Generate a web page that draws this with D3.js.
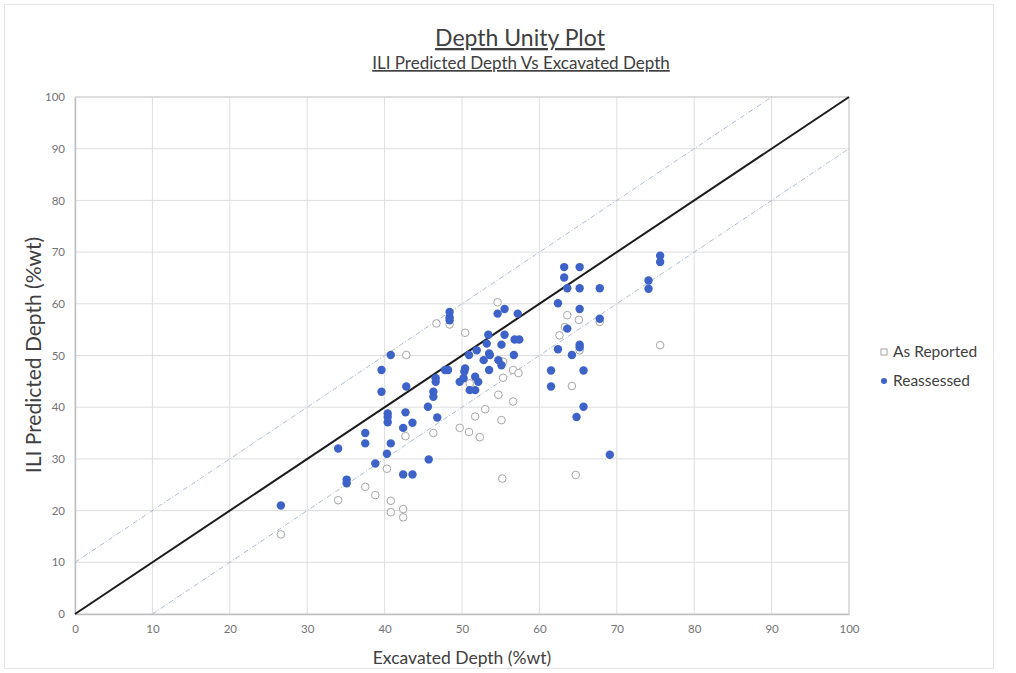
<!DOCTYPE html>
<html>
<head>
<meta charset="utf-8">
<script src="https://cdn.jsdelivr.net/npm/d3@7"></script>
<style>
  body { margin: 0; background: #fff; }
  text { font-family: Lato, "Open Sans", sans-serif; }
</style>
</head>
<body>
<div id="chart"></div>
<script>
// As Reported (hollow) points: [excavated, predicted]
var reported = [
  [26.6, 15.4], [34, 22], [37.5, 24.6], [38.8, 23], [40.8, 21.9], [40.8, 19.7],
  [42.4, 20.3], [42.4, 18.7], [40.3, 28.1], [42.7, 34.4], [46.3, 35], [49.7, 36],
  [50.9, 35.2], [52.3, 34.2], [55.1, 37.5], [51.7, 38.2], [53, 39.6], [54.7, 42.4],
  [56.6, 41.1], [55.3, 45.7], [56.6, 47.2], [57.3, 46.6], [55.2, 26.2], [42.8, 50.1],
  [46.7, 56.2], [50.4, 54.4], [54.6, 60.3], [63.6, 57.8], [65.1, 56.9], [67.8, 56.5],
  [63.3, 55.5], [62.6, 53.9], [65.2, 51], [64.2, 44.1], [75.6, 52], [64.7, 26.9],
  [51, 44.6], [55.3, 48.8], [48.4, 56]
];

// Reassessed (filled) points
var reassessed = [
  [26.6, 21], [34, 32], [35.1, 26], [35.1, 25.3], [37.5, 35], [37.5, 33], [38.8, 29.1],
  [40.3, 31], [40.8, 33], [40.4, 38.8], [40.4, 38.1], [40.4, 37.1], [42.7, 39], [43.6, 37],
  [42.4, 36], [45.7, 29.9], [42.4, 27], [43.6, 27], [46.8, 38], [45.6, 40.1], [40.8, 50.1],
  [39.6, 47.2], [39.6, 43], [42.8, 44], [48.4, 58.4], [48.4, 57.4], [48.4, 56.8],
  [46.6, 45.6], [46.6, 44.9], [48.2, 47.2], [46.3, 43], [46.3, 42], [47.8, 47.2],
  [50.4, 47.5], [50.3, 46.9], [50.9, 50.1], [51.9, 51], [49.7, 44.9], [50.2, 45.6],
  [51.7, 45.9], [52.1, 44.9], [51, 43.3], [51.7, 43.3], [53.4, 54], [55.5, 54],
  [53.2, 52.3], [53.5, 50.4], [55.1, 52.1], [56.8, 53.1], [57.4, 53.1], [56.7, 50.1],
  [52.8, 49.1], [53.6, 50.1], [54.7, 49.1], [55.1, 48.1], [53.5, 47.2], [54.6, 58.1],
  [55.5, 59], [57.2, 58.1], [62.4, 60.1], [61.5, 47.1], [61.5, 44], [62.4, 51.2],
  [63.2, 67.1], [65.2, 67.1], [63.2, 65.1], [63.6, 63], [65.2, 63], [67.8, 63],
  [65.2, 59], [67.8, 57.1], [63.6, 55.2], [65.2, 52.1], [65.2, 51.6], [64.2, 50.1],
  [65.7, 47.1], [65.7, 40.1], [64.8, 38.1], [75.6, 69.3], [75.6, 68.1], [74.1, 64.5],
  [74.1, 62.9], [69.1, 30.8]
];

var xTicks = [0, 10, 20, 30, 40, 50, 60, 70, 80, 90, 100];
var yTicks = [0, 10, 20, 30, 40, 50, 60, 70, 80, 90, 100];

// reference lines: unity and +/-10 band
var unityLine = [[0, 0], [100, 100]];
var upperBand = [[0, 10], [90, 100]];
var lowerBand = [[10, 0], [100, 90]];

var legendLabels = ["As Reported", "Reassessed"];

var W = 1016, H = 673;
var margin = {left: 75, right: 167, top: 97, bottom: 56};

var svg = d3.select("#chart").append("svg")
  .attr("width", W).attr("height", H);

// outer frame
svg.append("rect")
  .attr("x", 4.5).attr("y", 4.5).attr("width", 989).attr("height", 664)
  .attr("fill", "none").attr("stroke", "#e6e6e6");

var x = d3.scaleLinear().domain([0, 100]).range([margin.left, W - margin.right]);
var y = d3.scaleLinear().domain([0, 100]).range([H - margin.bottom - 3, margin.top]);

// gridlines
svg.append("g").selectAll("line").data(xTicks).enter().append("line")
  .attr("x1", function(d) { return x(d); }).attr("x2", function(d) { return x(d); })
  .attr("y1", y(0)).attr("y2", y(100))
  .attr("stroke", function(d) { return d === 100 ? "#bdbdbd" : "#dedede"; })
  .attr("stroke-width", 1);

svg.append("g").selectAll("line").data(yTicks).enter().append("line")
  .attr("y1", function(d) { return y(d); }).attr("y2", function(d) { return y(d); })
  .attr("x1", x(0)).attr("x2", x(100))
  .attr("stroke", function(d) { return d === 100 ? "#bdbdbd" : "#dedede"; })
  .attr("stroke-width", 1);

// axes
var xAxis = svg.append("g")
  .attr("transform", "translate(0," + y(0) + ")")
  .call(d3.axisBottom(x).tickValues(xTicks).tickSize(0).tickPadding(11));
var yAxis = svg.append("g")
  .attr("transform", "translate(" + x(0) + ",0)")
  .call(d3.axisLeft(y).tickValues(yTicks).tickSize(0).tickPadding(10));

[xAxis, yAxis].forEach(function(a) {
  a.select(".domain").attr("stroke", "#bfbfbf").attr("stroke-width", 1.5);
  a.selectAll("text").attr("fill", "#737373").style("font-size", "11.5px")
    .style("font-family", "'Liberation Sans Narrow', Lato, sans-serif");
});

var line = d3.line()
  .x(function(d) { return x(d[0]); })
  .y(function(d) { return y(d[1]); });

[upperBand, lowerBand].forEach(function(b) {
  svg.append("path").datum(b).attr("d", line)
    .attr("fill", "none").attr("stroke", "#aebdd0")
    .attr("stroke-width", 1).attr("stroke-dasharray", "5,2,1,2");
});

svg.append("path").datum(unityLine).attr("d", line)
  .attr("fill", "none").attr("stroke", "#1c1c1c").attr("stroke-width", 2);

// points
svg.append("g").selectAll("circle").data(reported).enter().append("circle")
  .attr("cx", function(d) { return x(d[0]); })
  .attr("cy", function(d) { return y(d[1]); })
  .attr("r", 3.8)
  .attr("fill", "#fff").attr("stroke", "#a6a6a6").attr("stroke-width", 1);

svg.append("g").selectAll("circle").data(reassessed).enter().append("circle")
  .attr("cx", function(d) { return x(d[0]); })
  .attr("cy", function(d) { return y(d[1]); })
  .attr("r", 4.2)
  .attr("fill", "#3d63c9");

// titles
svg.append("text").attr("x", 520).attr("y", 46).attr("text-anchor", "middle")
  .attr("fill", "#404040").style("font-size", "23px")
  .style("text-decoration", "underline").text("Depth Unity Plot");
svg.append("text").attr("x", 521).attr("y", 69).attr("text-anchor", "middle")
  .attr("fill", "#404040").style("font-size", "17px")
  .style("text-decoration", "underline").text("ILI Predicted Depth Vs Excavated Depth");

svg.append("text").attr("x", 462).attr("y", 664).attr("text-anchor", "middle")
  .attr("fill", "#404040").style("font-size", "17.5px").text("Excavated Depth (%wt)");
svg.append("text")
  .attr("transform", "translate(41,355) rotate(-90)")
  .attr("text-anchor", "middle")
  .attr("fill", "#404040").style("font-size", "21px").text("ILI Predicted Depth (%wt)");

// legend
var leg = svg.append("g").attr("transform", "translate(884,352)");
leg.append("rect").attr("x", -3).attr("y", -3).attr("width", 6).attr("height", 6)
  .attr("fill", "#fff").attr("stroke", "#a6a6a6");
leg.append("circle").attr("cx", 0).attr("cy", 29).attr("r", 3).attr("fill", "#3d63c9");
leg.selectAll("text").data(legendLabels).enter().append("text")
  .attr("x", 9).attr("y", function(d, i) { return i * 29 + 5; })
  .attr("fill", "#404040").style("font-size", "15.5px").text(function(d) { return d; });
</script>
</body>
</html>
